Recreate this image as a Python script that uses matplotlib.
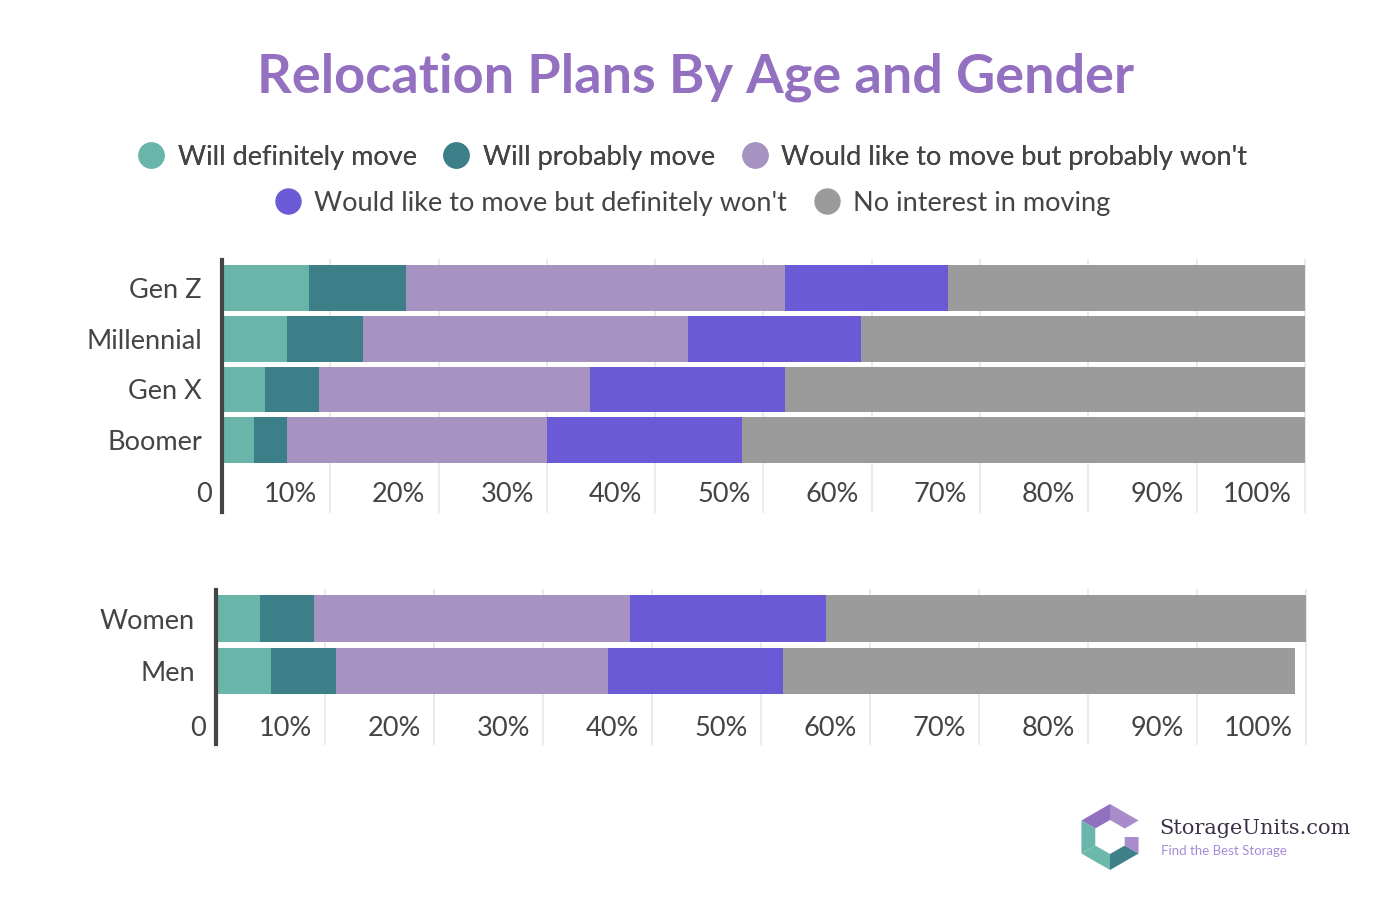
import numpy as np
import matplotlib.pyplot as plt
import matplotlib.transforms as mtransforms
from matplotlib.lines import Line2D
from matplotlib.patches import Polygon

plt.rcParams['font.family'] = ['Lato', 'DejaVu Sans']

# données (en %)
series = ["Will definitely move", "Will probably move",
          "Would like to move but probably won't",
          "Would like to move but definitely won't", "No interest in moving"]
couleurs = ["#6ab5aa", "#3d7f88", "#a793c2", "#6a5ad5", "#9b9b9b"]

ages = ["Gen Z", "Millennial", "Gen X", "Boomer"]
age_definitely = [8, 6, 4, 3]
age_probably = [9, 7, 5, 3]
age_like_probably_not = [35, 30, 25, 24]
age_like_definitely_not = [15, 16, 18, 18]
age_no_interest = [33, 41, 48, 52]

genres = ["Women", "Men"]
genre_definitely = [4, 5]
genre_probably = [5, 6]
genre_like_probably_not = [29, 25]
genre_like_definitely_not = [18, 16]
genre_no_interest = [44, 47]

ticks = list(range(0, 101, 10))
tick_labels = ["0", "10%", "20%", "30%", "40%", "50%", "60%", "70%", "80%", "90%", "100%"]

TXT = "#444444"
FS = 19.5
W, H = 1394, 910
fig = plt.figure(figsize=(W / 100, H / 100), dpi=100)


def px_axes(left, top, right, bottom):
    return fig.add_axes([left / W, 1 - bottom / H, (right - left) / W, (bottom - top) / H])


def stacked(ax, cats, rows, height, ylim, label_y, pad):
    y = np.arange(len(cats))
    left = np.zeros(len(cats))
    for vals, c in zip(rows, couleurs):
        ax.barh(y, vals, left=left, height=height, color=c, zorder=2)
        left += np.array(vals)
    ax.set_xlim(0, 100)
    ax.set_ylim(*ylim)
    ax.set_yticks(y, cats)
    ax.tick_params(axis='y', length=0, pad=pad, labelsize=FS, labelcolor=TXT)
    ax.set_xticks([])
    for s in ['top', 'right', 'bottom']:
        ax.spines[s].set_visible(False)
    ax.spines['left'].set_linewidth(3)
    ax.spines['left'].set_color(TXT)
    ax.spines['left'].set_zorder(4)
    for x in ticks[1:]:
        ax.axvline(x, color="#e8e8e8", lw=1.3, zorder=1, clip_on=False)
    for x, lab in zip(ticks, tick_labels):
        trans = mtransforms.offset_copy(ax.transData, fig=fig, x=-13 if x else -10, y=0, units='dots')
        ax.text(x, label_y, lab, transform=trans, ha='right', va='center', fontsize=FS, color=TXT)


# graphique par âge
ax1 = px_axes(222, 260, 1305, 512)
stacked(ax1, ages, [age_definitely, age_probably, age_like_probably_not,
                    age_like_definitely_not, age_no_interest],
        0.9, (4.418, -0.552), 4.08, 14.5)

# graphique par genre
ax2 = px_axes(216, 590, 1306, 744)
stacked(ax2, genres, [genre_definitely, genre_probably, genre_like_probably_not,
                      genre_like_definitely_not, genre_no_interest],
        0.886, (2.39, -0.543), 2.086, 15)

# titre
fig.text(0.499, 1 - 77 / H, "Relocation Plans By Age and Gender", ha='center', va='center',
         fontsize=39, fontweight='bold', color="#9370c0")

# légende sur deux lignes
handles = [Line2D([], [], marker='o', ls='', ms=18, color=c) for c in couleurs]
leg1 = fig.legend(handles[:3], series[:3], loc='center', bbox_to_anchor=(0.497, 1 - 157 / H),
                  ncol=3, frameon=False, fontsize=FS, handlelength=0.95, handletextpad=0.5,
                  columnspacing=1.0, labelcolor=TXT)
fig.add_artist(leg1)
fig.legend(handles[3:], series[3:], loc='center', bbox_to_anchor=(0.497, 1 - 203 / H),
           ncol=2, frameon=False, fontsize=FS, handlelength=0.95, handletextpad=0.5,
           columnspacing=1.0, labelcolor=TXT)

# logo
lax = px_axes(1070, 790, 1150, 880)
lax.set_xlim(1070, 1150)
lax.set_ylim(880, 790)
lax.axis('off')
cx, cy, R = 1110, 837, 33
ang = np.radians([90, 150, 210, 270, 330, 30])
V = [(cx + R * np.cos(a), cy - R * np.sin(a)) for a in ang]
C = (cx, cy)
mid_r = ((V[4][0] + V[5][0]) / 2, (V[4][1] + V[5][1]) / 2)
pieces = [([C, V[0], V[1]], "#9170c0"), ([C, V[5], V[0]], "#a98bcc"),
          ([C, V[1], V[2]], "#6ab5aa"), ([C, V[2], V[3]], "#6cb8ab"),
          ([C, V[3], V[4]], "#3d8088"), ([C, V[4], mid_r], "#a98bcc")]
for pts, c in pieces:
    lax.add_patch(Polygon(pts, closed=True, color=c, lw=0))
r = 17
Vi = [(cx + r * np.cos(a), cy - r * np.sin(a)) for a in ang]
lax.add_patch(Polygon(Vi, closed=True, color="white", lw=0))

fig.text(1159 / W, 1 - 828 / H, "StorageUnits.com", ha='left', va='center',
         fontsize=15, family='DejaVu Serif', color="#3b2f47")
fig.text(1161 / W, 1 - 851 / H, "Find the Best Storage", ha='left', va='center',
         fontsize=9.5, color="#a68bd6")

fig.savefig("out.png", dpi=100, facecolor="white")
